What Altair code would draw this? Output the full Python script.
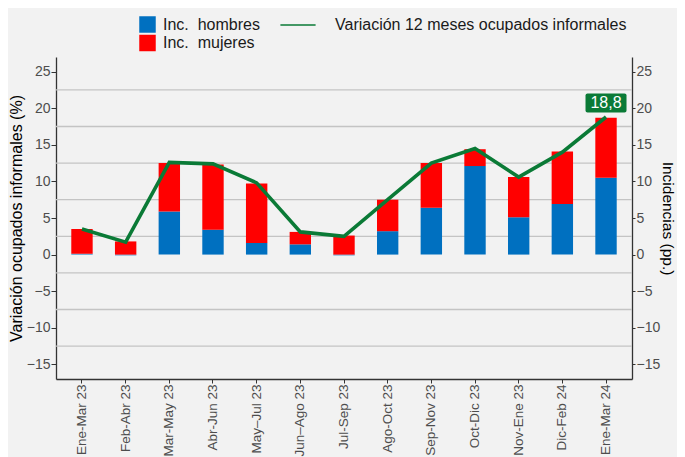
import altair as alt
import pandas as pd

periodos = ["Ene-Mar 23", "Feb-Abr 23", "Mar-May 23", "Abr-Jun 23", "May–Jul 23",
            "Jun–Ago 23", "Jul-Sep 23", "Ago-Oct 23", "Sep-Nov 23", "Oct-Dic 23",
            "Nov-Ene 23", "Dic-Feb 24", "Ene-Mar 24"]
inc_hombres = [0.1, -0.1, 5.9, 3.4, 1.6, 1.4, -0.1, 3.2, 6.4, 12.1, 5.1, 6.9, 10.5]
inc_mujeres = [3.4, 1.8, 6.6, 8.9, 8.1, 1.7, 2.6, 4.3, 6.1, 2.3, 5.5, 7.2, 8.2]
variacion = [3.5, 1.7, 12.6, 12.4, 9.8, 3.1, 2.5, 7.5, 12.5, 14.5, 10.6, 14.0, 18.8]
series = ["Inc.\u00a0 hombres", "Inc.\u00a0 mujeres"]
linea_nombre = "Variación 12 meses ocupados informales"
y_ticks = [-15, -10, -5, 0, 5, 10, 15, 20, 25]
grid_vals = [-12.5, -7.5, -2.5, 2.5, 7.5, 12.5, 17.5, 22.5]

BLUE = "#0070C0"
RED = "#FF0000"
GREEN = "#0A7A36"
FONT = "Liberation Sans"
AXC = "#333333"
LBL = "#4D4D4D"

bars_df = pd.DataFrame({
    "periodo": periodos * 2,
    "valor": inc_hombres + inc_mujeres,
    "serie": [series[0]] * len(periodos) + [series[1]] * len(periodos),
    "orden": [0] * len(periodos) + [1] * len(periodos),
})
line_df = pd.DataFrame({"periodo": periodos, "variacion": variacion, "leyenda": linea_nombre})
last_df = pd.DataFrame({
    "periodo": [periodos[-1]],
    "variacion": [variacion[-1]],
    "etiqueta": [f"{variacion[-1]:.1f}".replace(".", ",")],
})
grid_df = pd.DataFrame({"g": grid_vals})

yscale = alt.Scale(domain=[-17, 27], nice=False, zero=False)
xscale = alt.Scale(paddingInner=0.51, paddingOuter=0.35)

x_enc = alt.X("periodo:N", sort=periodos, scale=xscale,
              axis=alt.Axis(title=None, labelAngle=-90, labelFontSize=13.5,
                            labelColor=LBL, tickSize=4, tickColor=AXC,
                            domainColor=AXC, domainWidth=1.3, labelPadding=1,
                            labelFont=FONT, labelLimit=0))

grid = alt.Chart(grid_df).mark_rule(color="#C4C4C4", strokeWidth=1.3).encode(
    y=alt.Y("g:Q", scale=yscale, axis=None)
)

bars = alt.Chart(bars_df).mark_bar().encode(
    x=x_enc,
    y=alt.Y("valor:Q", stack="zero", scale=yscale,
            axis=alt.Axis(orient="left", values=y_ticks, grid=False,
                          title="Variación ocupados informales (%)",
                          titleFontSize=16, titleFontWeight="normal", titleColor="#000000",
                          titleFont=FONT, labelFont=FONT, labelFontSize=14,
                          labelColor=LBL, tickSize=5, tickColor=AXC, labelPadding=1,
                          domainColor=AXC, domainWidth=1.3, titlePadding=2)),
    fill=alt.Fill("serie:N", scale=alt.Scale(domain=series, range=[BLUE, RED]),
                  legend=alt.Legend(title=None, orient="none", legendX=83, legendY=-41,
                                    direction="vertical", symbolType="square",
                                    symbolSize=272, labelFontSize=16, labelFont=FONT,
                                    labelColor="#1A1A1A", rowPadding=1.5, labelOffset=7,
                                    symbolStrokeWidth=0, labelLimit=0, padding=0)),
    order=alt.Order("orden:Q", sort="ascending"),
)

line = alt.Chart(line_df).mark_line(strokeWidth=3.6).encode(
    x=alt.X("periodo:N", sort=periodos, scale=xscale),
    y=alt.Y("variacion:Q", scale=yscale,
            axis=alt.Axis(orient="right", values=y_ticks, grid=False,
                          title="Incidencias (pp.)", titleFontSize=15.5,
                          titleFontWeight="normal", titleColor="#000000", titleFont=FONT,
                          labelFont=FONT, labelFontSize=14, labelColor=LBL,
                          tickSize=3, tickColor=AXC, domainColor=AXC, labelPadding=1,
                          domainWidth=1.3, titlePadding=0)),
    stroke=alt.Stroke("leyenda:N", scale=alt.Scale(domain=[linea_nombre], range=[GREEN]),
                      legend=alt.Legend(title=None, orient="none", legendX=233, legendY=-41,
                                        symbolType="M-2.2,0H2.2", symbolSize=256,
                                        symbolStrokeWidth=1.6, labelFontSize=16,
                                        labelFont=FONT, labelColor="#1A1A1A",
                                        labelOffset=28, labelLimit=0, padding=0)),
)

box = alt.Chart(last_df).mark_tick(size=41, thickness=19, color=GREEN, opacity=1,
                                   yOffset=-14, cornerRadius=2).encode(
    x=alt.X("periodo:N", sort=periodos, scale=xscale),
    y=alt.Y("variacion:Q", scale=yscale, axis=None),
)
txt = alt.Chart(last_df).mark_text(color="white", fontSize=16, font=FONT, yOffset=-14,
                                   align="center", baseline="middle").encode(
    x=alt.X("periodo:N", sort=periodos, scale=xscale),
    y=alt.Y("variacion:Q", scale=yscale, axis=None),
    text="etiqueta:N",
)

chart = alt.layer(grid, bars, line, box, txt).resolve_axis(y="independent").properties(
    width=669, height=449,
    autosize=alt.AutoSizeParams(type="fit", contains="padding"),
    background="#F2F2F2",
    padding={"left": 0, "top": 49, "right": 2, "bottom": 0},
).configure_view(stroke=None, fill="#F2F2F2")

chart.save("out.html", embed_options={"renderer": "svg", "actions": False})
